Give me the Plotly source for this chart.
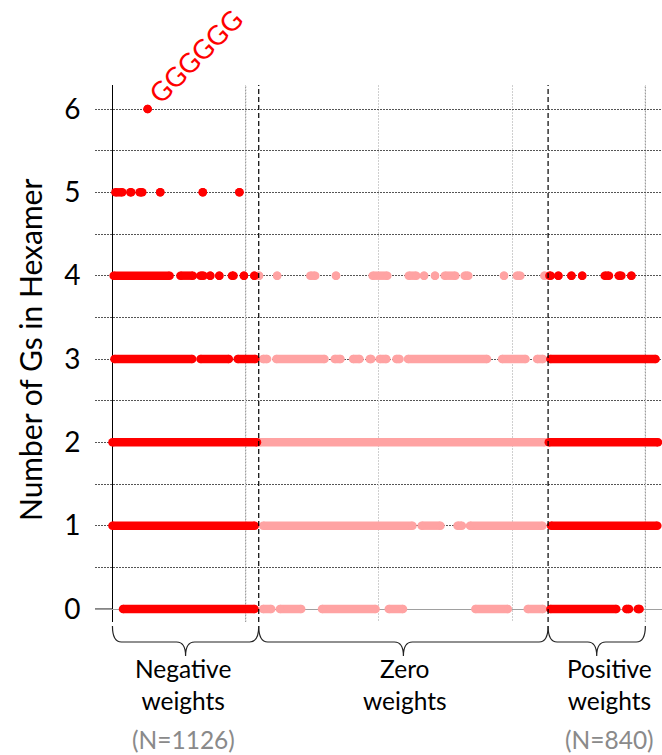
import plotly.graph_objects as go

# ---------------- data (hexamer rank runs) ----------------
g_levels = [0, 1, 2, 3, 4, 5, 6]

# runs of consecutive hexamer ranks (start, end) at each number of Gs
neg_runs = {
    0: [(79, 1067)],
    1: [(0, 1068)],
    2: [(0, 1085)],
    3: [(15, 599), (661, 874), (940, 1073)],
    4: [(9, 429), (510, 604), (660, 684), (734, 734), (802, 802), (897, 909),
        (987, 987), (1065, 1065)],
    5: [(22, 74), (134, 141), (204, 224), (359, 359), (678, 678), (953, 953)],
    6: [(264, 264)],
}
zero_runs = {
    0: [(1130, 1192), (1257, 1417), (1573, 1975), (2074, 2181), (2724, 2968), (3117, 3232)],
    1: [(1131, 2252), (2321, 2462), (2590, 2623), (2684, 3228)],
    2: [(1105, 3245)],
    3: [(1130, 1161), (1230, 1592), (1668, 1712), (1806, 1855), (1931, 1943), (2006, 2056),
        (2131, 2155), (2218, 2812), (2924, 3101), (3187, 3232)],
    4: [(1100, 1100), (1236, 1236), (1485, 1522), (1678, 1678), (1953, 2063), (2224, 2281),
        (2339, 2339), (2421, 2421), (2494, 2574), (2644, 2671), (2939, 2939), (3035, 3062),
        (3243, 3243)],
}
pos_runs = {
    0: [(3287, 3782), (3857, 3878), (3943, 3957)],
    1: [(3292, 4090)],
    2: [(3275, 4095)],
    3: [(3287, 4077)],
    4: [(3280, 3290), (3347, 3347), (3445, 3445), (3526, 3526), (3695, 3727),
        (3800, 3820), (3895, 3895)],
}

group_bounds = [0, 1098, 3270, 4000]          # brace / divider positions (rank)
group_names = ["Negative<br>weights", "Zero<br>weights", "Positive<br>weights"]
group_counts = ["(N=1126)", "", "(N=840)"]
grid_x = [1000, 2000, 3000, 4000]
ytick_vals = [0, 1, 2, 3, 4, 5, 6]
ytick_minor = [0.5, 1.5, 2.5, 3.5, 4.5, 5.5]
top_hexamer = "GGGGGG"
top_hexamer_rank = 264

# ---------------- layout constants ----------------
W, H = 662, 755
ML, MR, MT, MB = 95, 0, 85, 133
PLOT_H = H - MT - MB
XR = [-131, 4125]
YR = [-0.156, 6.288]
RED = "#FF0000"
PINK = "#FFA3A3"
MSIZE = 8.5


def paper_y(pix):
    return (H - MB - pix) / PLOT_H


def build(runs):
    xs, ys = [], []
    for g in g_levels:
        for s, e in runs.get(g, []):
            xs += [s, e, None]
            ys += [g, g, None]
    return xs, ys


fig = go.Figure()
for runs, col in [(zero_runs, PINK), (neg_runs, RED), (pos_runs, RED)]:
    xs, ys = build(runs)
    fig.add_trace(go.Scatter(
        x=xs, y=ys, mode="lines+markers",
        line=dict(color=col, width=MSIZE),
        marker=dict(color=col, size=MSIZE, line=dict(width=0)),
        hoverinfo="skip", showlegend=False, cliponaxis=False))

shapes = []
# darker dotted verticals at 1000 and 4000
for gx in [grid_x[0], grid_x[-1]]:
    shapes.append(dict(type="line", xref="x", yref="paper", x0=gx, x1=gx, y0=0, y1=1,
                       line=dict(color="#8c8c8c", width=1, dash="2px,1px"), layer="between"))
# dashed dividers
for bx in group_bounds[1:3]:
    shapes.append(dict(type="line", xref="x", yref="paper", x0=bx, x1=bx, y0=0, y1=1,
                       line=dict(color="black", width=1.2, dash="5px,3px"), layer="above"))
# dark stub of the zero line left of the y axis
shapes.append(dict(type="line", xref="paper", yref="y", x0=0, x1=(0 - XR[0]) / (XR[1] - XR[0]),
                   y0=0, y1=0, line=dict(color="#333333", width=1.2), layer="between"))

# braces
px_per_unit = (W - ML - MR) / (XR[1] - XR[0])
r = 9 / px_per_unit
yt, ym, yk = paper_y(626), paper_y(642), paper_y(656)
for x0, x1 in zip(group_bounds[:-1], group_bounds[1:]):
    xm = (x0 + x1) / 2
    path = (f"M {x0},{yt} Q {x0},{ym} {x0 + r},{ym} L {xm - r},{ym} "
            f"Q {xm},{ym} {xm},{yk} Q {xm},{ym} {xm + r},{ym} "
            f"L {x1 - r},{ym} Q {x1},{ym} {x1},{yt}")
    shapes.append(dict(type="path", xref="x", yref="paper", path=path,
                       line=dict(color="#222222", width=1.2)))

annotations = []
centers = [183, 405, 609]
for name, cnt, cpx in zip(group_names, group_counts, centers):
    cx = XR[0] + (cpx - ML) / px_per_unit
    annotations.append(dict(text=name, xref="x", yref="paper", x=cx, y=paper_y(684),
                            showarrow=False, xanchor="center", yanchor="middle",
                            font=dict(size=24.5, color="black", family="Lato")))
    if cnt:
        annotations.append(dict(text=cnt, xref="x", yref="paper", x=cx, y=paper_y(740),
                                showarrow=False, xanchor="center", yanchor="middle",
                                font=dict(size=24.5, color="#8a8a8a", family="Lato")))

annotations.append(dict(text=top_hexamer, x=top_hexamer_rank, y=6, xref="x", yref="y",
                        showarrow=False, xshift=47, yshift=53, textangle=-45,
                        font=dict(size=27, color=RED, family="Lato")))
annotations.append(dict(text="Number of Gs in Hexamer", xref="paper", yref="paper",
                        x=(30 - ML) / (W - ML - MR), y=paper_y(350), textangle=-90,
                        showarrow=False, xanchor="center", yanchor="middle",
                        font=dict(size=30, color="black", family="Lato")))

fig.update_layout(
    width=W, height=H, margin=dict(l=ML, r=MR, t=MT, b=MB),
    plot_bgcolor="white", paper_bgcolor="white", showlegend=False,
    font=dict(family="Lato", color="black"),
    shapes=shapes, annotations=annotations,
    xaxis=dict(range=XR, showticklabels=False, tickvals=grid_x, ticks="",
               showgrid=True, gridcolor="#cfcfcf", griddash="2px,1px", gridwidth=1,
               zeroline=True, zerolinecolor="black", zerolinewidth=1.2, showline=False),
    yaxis=dict(range=YR, tickvals=ytick_vals, ticktext=[str(v) for v in ytick_vals],
               tickfont=dict(size=28, color="black", family="Lato"),
               ticks="outside", ticklen=8, tickcolor="rgba(0,0,0,0)",
               showgrid=True, gridcolor="#555555", griddash="2px,1px", gridwidth=1,
               minor=dict(tickvals=ytick_minor, showgrid=True, gridcolor="#555555",
                          griddash="2px,1px", gridwidth=1),
               zeroline=True, zerolinecolor="#a0a0a0", zerolinewidth=1.2, showline=False),
)

fig.write_html("out.html")
